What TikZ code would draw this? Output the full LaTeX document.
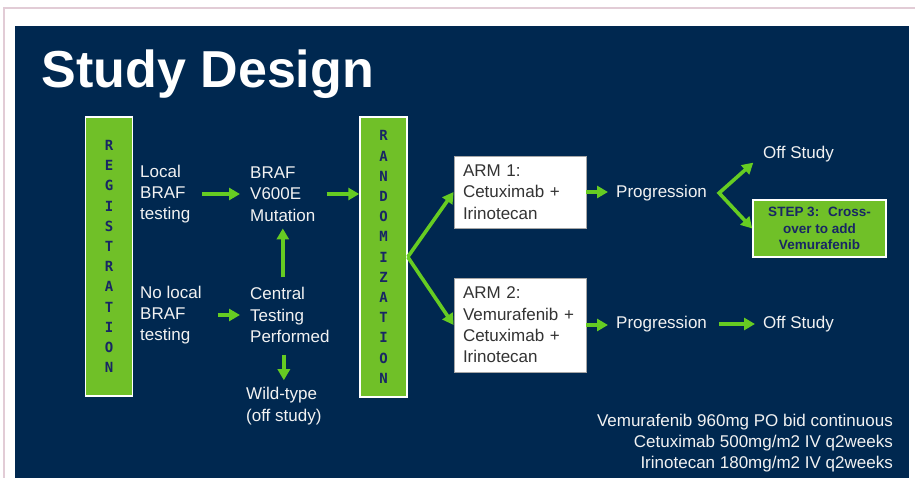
\documentclass[tikz,border=0pt]{standalone}
\usepackage{fontspec}
\setmainfont{Liberation Sans}
\newfontfamily\barfont{DejaVu Sans Mono}
\usetikzlibrary{arrows.meta}

\definecolor{slidenavy}{RGB}{0,40,80}
\definecolor{boxgreen}{RGB}{112,192,40}
\definecolor{arrowgreen}{RGB}{102,204,34}
\definecolor{letterblue}{RGB}{24,38,100}
\definecolor{framepink}{RGB}{226,204,214}
\definecolor{slidetext}{RGB}{242,242,242}

\begin{document}
\begin{tikzpicture}[x=1pt,y=-1pt,
					>={Triangle[length=11pt,width=12pt]},
					text node/.style={text=slidetext,inner sep=0pt,align=left,anchor=west,
						font=\fontsize{17}{21.3}\selectfont},
					bar node/.style={fill=boxgreen,draw=white,line width=1.5pt,
						minimum width=47pt,minimum height=279pt,inner sep=0pt,align=center,
						text=letterblue,font=\barfont\bfseries\fontsize{14}{20.2}\selectfont},
					arm node/.style={fill=white,draw=gray!70,line width=0.8pt,text=black!80,
						text width=114pt,inner xsep=9pt,inner ysep=0pt,align=left,
						font=\fontsize{17}{21.3}\selectfont},
					cross node/.style={fill=boxgreen,draw=white,line width=1.5pt,
						minimum width=133pt,minimum height=57pt,inner sep=0pt,align=center,
						text=letterblue,font=\bfseries\fontsize{13.5}{16.5}\selectfont},
					green arrow/.style={->,draw=arrowgreen,line width=3.6pt}]

  \useasboundingbox (0,0) rectangle (915,478);
  \fill[white] (0,0) rectangle (915,478);
  \draw[framepink,line width=2pt] (3.5,478) -- (3.5,8.5) -- (915,8.5);
  \fill[slidenavy] (15,26) rectangle (909,478);

  \node[anchor=base west,inner sep=0pt,text=white,
        font=\bfseries\fontsize{52}{60}\selectfont] (title) at (41.5,88) {Study Design};

  \node[bar node] (reg) at (109,256.5) {R\\E\\G\\I\\S\\T\\R\\A\\T\\I\\O\\N};
  \node[bar node,minimum height=280pt] (rand) at (383.5,257) {R\\A\\N\\D\\O\\M\\I\\Z\\A\\T\\I\\O\\N};

  \node[text node] (local) at (140,194) {Local\\BRAF\\testing};
  \node[text node] (braf) at (250,194) {BRAF\\V600E\\Mutation};
  \node[text node] (nolocal) at (140,315) {No local\\BRAF\\testing};
  \node[text node] (central) at (250,315) {Central\\Testing\\Performed};
  \node[text node] (wild) at (246,406) {Wild-type\\(off study)};

  \node[arm node,minimum height=72pt] (arm1) at (520,192) {ARM 1:\\Cetuximab +\\Irinotecan};
  \node[arm node,minimum height=94pt] (arm2) at (520,325) {ARM 2:\\Vemurafenib +\\Cetuximab +\\Irinotecan};

  \node[text node] (prog1) at (616,193) {Progression};
  \node[text node] (prog2) at (616,324) {Progression};
  \node[text node] (off1) at (763,154) {Off Study};
  \node[text node] (off2) at (763,324) {Off Study};
  \node[cross node] (step3) at (819.5,228.5) {STEP 3:~ Cross-\\over to add\\Vemurafenib};

  \node[text node,align=right,anchor=east] (doses) at (893,443)
    {Vemurafenib 960mg PO bid continuous\\Cetuximab 500mg/m2 IV q2weeks\\Irinotecan 180mg/m2 IV q2weeks};

  % arrows
  \draw[green arrow,shorten <=12pt,shorten >=10pt] (local) -- (braf);
  \draw[green arrow,shorten <=16pt,shorten >=10pt] (nolocal) -- (central);
  \draw[green arrow,shorten <=10pt,shorten >=7pt] (braf.south |- central.north) -- (braf.south);
  \draw[green arrow,shorten <=12pt,shorten >=7pt] (central.south -| wild.north) -- (wild.north);
  \draw[green arrow,shorten <=11pt] (braf.east) -- (braf.east -| rand.west);

  \draw[green arrow] (rand.east) -- (arm1.west);
  \draw[green arrow] (rand.east) -- (arm2.west);

  \draw[green arrow,shorten >=8pt] (arm1.east) -- (arm1.east -| prog1.west);
  \draw[green arrow,shorten >=8pt] (arm2.east) -- (arm2.east -| prog2.west);

  \coordinate (split) at ([xshift=12pt]prog1.east);
  \draw[green arrow,<->,shorten <=13pt,line join=miter] (off1.west) -- (split) -- (step3.west);
  \draw[green arrow,shorten <=12pt,shorten >=8pt] (prog2) -- (off2);
\end{tikzpicture}
\end{document}
